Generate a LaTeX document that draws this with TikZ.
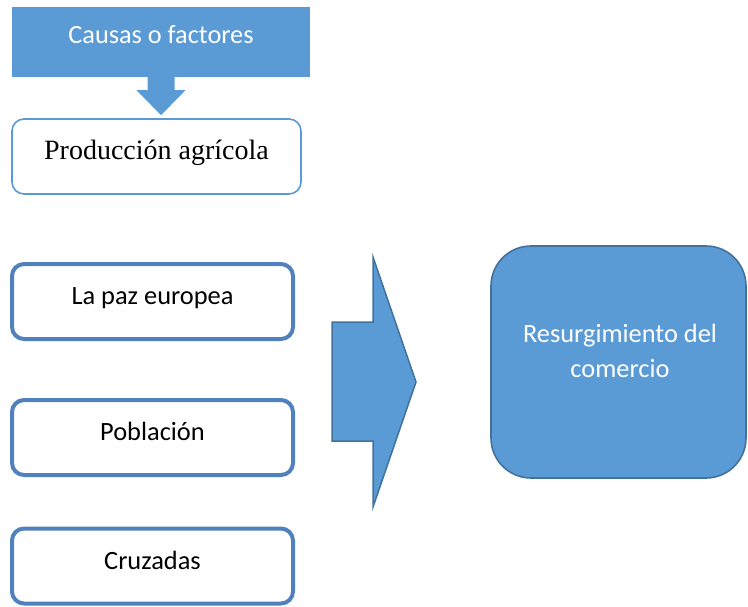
\documentclass[tikz,border=0pt]{standalone}
\usepackage{fontspec}
\setmainfont{Carlito}
\newfontfamily\serifbox{Liberation Serif}
\usetikzlibrary{calc}
\definecolor{fillblue}{HTML}{5B9BD5}
\definecolor{darkblue}{HTML}{41719C}
\definecolor{edgeblue}{HTML}{5081BD}
\tikzset{
  x=1pt,y=1pt,
  headbox/.style={fill=fillblue, draw=none, minimum width=298pt, minimum height=70pt, inner sep=0pt, text=white, text height=18pt, text depth=16pt, font=\fontsize{26.3}{30}\selectfont},
  prodbox/.style={draw=fillblue, line width=1.6pt, rounded corners=12pt, fill=white, minimum width=289pt, minimum height=75pt, inner sep=0pt, text height=18pt, text depth=13pt, font=\serifbox\fontsize{28}{32}\selectfont},
  factorbox/.style={draw=edgeblue, line width=4pt, rounded corners=12pt, fill=white, minimum width=281pt, minimum height=75pt, inner sep=0pt, text height=16pt, text depth=10pt, font=\fontsize{26.4}{30}\selectfont},
  resultbox/.style={draw=darkblue, fill=fillblue, line width=1.6pt, rounded corners=40pt, minimum width=255pt, minimum height=232pt, inner sep=0pt},
  resulttext/.style={text=white, align=center, inner sep=0pt, font=\fontsize{26.4}{35}\selectfont},
  blockarrow/.style={fill=fillblue, draw=darkblue, line width=1.5pt, line join=miter}
}
\begin{document}
\begin{tikzpicture}
\useasboundingbox (0,0) rectangle (748,-606);
\node[headbox] (causas) at (161,-42) {Causas o factores};
\node[prodbox] (prod) at (156.5,-156.5) {Producción agrícola};
\node[factorbox] (paz) at (152.5,-301.5) {La paz europea};
\node[factorbox] (pob) at (152.5,-437.5) {Población};
\node[factorbox] (cruz) at (152.5,-566) {Cruzadas};
\node[resultbox] (res) at (618.5,-362) {};
\node[resulttext, anchor=base] (restext) at (620,-377) {Resurgimiento del\\comercio};
% down block arrow
\fill[fillblue] ($(causas.south)+(-13.5,0.5)$) -- ($(causas.south)+(13.5,0.5)$) -- ($(causas.south)+(13.5,-13)$) -- ($(causas.south)+(24.5,-13)$) -- ($(causas.south)+(0,-38)$) -- ($(causas.south)+(-24.5,-13)$) -- ($(causas.south)+(-13.5,-13)$) -- cycle;
% right block arrow
\coordinate (arrtip) at (416,-382);
\draw[blockarrow] (332,-322) -- (373,-322) -- (373,-257) -- (arrtip) -- (373,-507) -- (373,-441) -- (332,-441) -- cycle;
\end{tikzpicture}
\end{document}
